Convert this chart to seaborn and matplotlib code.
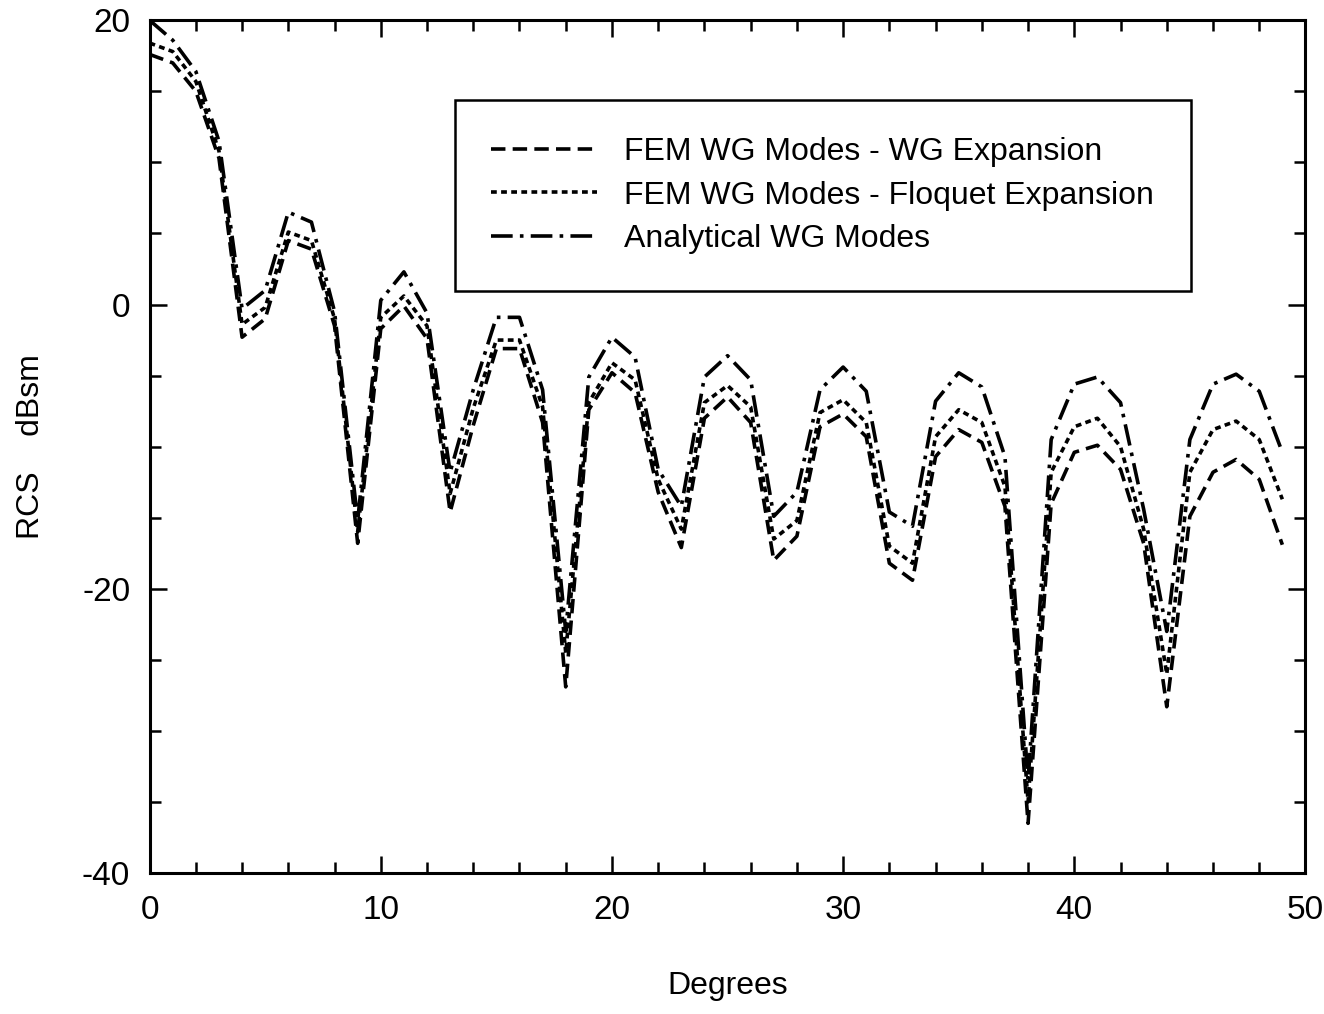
import matplotlib
matplotlib.use("Agg")
from matplotlib import pyplot as plt
from matplotlib.ticker import MultipleLocator
import pandas as pd
import seaborn as sns

# RCS vs. angle (one sample per degree)
degrees = list(range(0, 50))

wg_expansion = [17.6, 17.0, 15.0, 10.3, -2.3, -1.0, 4.5, 3.9, -1.5, -16.8,
                -1.7, -0.1, -2.4, -14.6, -8.5, -3.1, -3.1, -8.3, -26.9, -7.4,
                -4.8, -6.2, -13.2, -17.1, -8.0, -6.5, -8.3, -18.0, -16.3, -8.6,
                -7.7, -9.3, -18.2, -19.4, -10.7, -8.8, -9.7, -14.2, -36.5, -14.0,
                -10.4, -9.9, -11.6, -16.8, -28.3, -14.9, -11.8, -10.9, -12.3, -16.9]

floquet_expansion = [18.4, 17.8, 15.7, 10.8, -1.4, -0.2, 5.1, 4.5, -1.0, -16.0,
                     -0.9, 0.6, -1.5, -13.3, -7.3, -2.5, -2.5, -7.2, -24.5, -6.9,
                     -4.1, -5.3, -12.3, -15.8, -6.9, -5.7, -7.2, -16.5, -15.2, -7.6,
                     -6.7, -8.3, -17.0, -18.2, -9.3, -7.4, -8.3, -12.8, -35.0, -11.8,
                     -8.6, -8.0, -10.0, -15.8, -26.0, -11.8, -8.8, -8.2, -9.5, -13.7]

analytical = [20.0, 18.6, 16.4, 11.5, -0.3, 1.0, 6.5, 5.8, -0.5, -15.2,
              0.3, 2.3, -0.6, -11.8, -6.0, -0.9, -0.9, -6.0, -23.0, -5.1,
              -2.3, -3.7, -11.6, -14.2, -5.1, -3.6, -5.3, -14.9, -13.2, -6.0,
              -4.4, -6.1, -14.6, -15.6, -6.8, -4.8, -5.8, -10.7, -33.5, -9.5,
              -5.6, -5.1, -6.9, -14.4, -23.0, -9.5, -5.6, -4.9, -6.1, -10.4]

labels = ["FEM WG Modes - WG Expansion",
          "FEM WG Modes - Floquet Expansion",
          "Analytical WG Modes"]

def main():
    sns.set_style("ticks")
    plt.rcParams['font.family'] = ['Liberation Sans', 'DejaVu Sans']
    plt.rcParams['axes.unicode_minus'] = False
    plt.rcParams['text.color'] = 'black'
    plt.rcParams['axes.labelcolor'] = 'black'

    df = pd.concat([
        pd.DataFrame({'deg': degrees, 'rcs': wg_expansion, 'series': labels[0]}),
        pd.DataFrame({'deg': degrees, 'rcs': floquet_expansion, 'series': labels[1]}),
        pd.DataFrame({'deg': degrees, 'rcs': analytical, 'series': labels[2]}),
    ], ignore_index=True)

    fig = plt.figure(figsize=(13.24, 10.14), dpi=100)
    ax = fig.add_axes([0.113, 0.139, 0.873, 0.841])

    dashes = {labels[0]: (4.0, 2.0),
              labels[1]: (1.6, 1.2),
              labels[2]: (6.0, 2.0, 1.0, 2.0)}
    sns.lineplot(data=df, x='deg', y='rcs', style='series', dashes=dashes,
                 color='black', linewidth=2.6, ax=ax)

    ax.set_xlim(0, 50)
    ax.set_ylim(-40, 20)
    ax.xaxis.set_major_locator(MultipleLocator(10))
    ax.xaxis.set_minor_locator(MultipleLocator(2))
    ax.yaxis.set_major_locator(MultipleLocator(20))
    ax.yaxis.set_minor_locator(MultipleLocator(5))
    ax.tick_params(which='both', direction='in', top=True, right=True,
                   labelsize=24, colors='black', width=1.8)
    ax.tick_params(which='major', length=12)
    ax.tick_params(which='minor', length=8)
    ax.tick_params(axis='x', which='major', pad=16)
    ax.tick_params(axis='y', which='major', pad=14)
    for s in ax.spines.values():
        s.set_visible(True)
        s.set_linewidth(2.2)
        s.set_color('black')

    ax.set_xlabel('Degrees', fontsize=23, labelpad=32)
    ax.set_ylabel('RCS    dBsm', fontsize=23, labelpad=26)

    handles, _ = ax.get_legend_handles_labels()
    leg = ax.legend(handles=handles, labels=labels, loc='upper left',
                    bbox_to_anchor=(0.264, 0.906), fontsize=23, frameon=True,
                    fancybox=False, edgecolor='black', borderpad=1.15,
                    handlelength=3.3, handletextpad=0.85, labelspacing=0.42,
                    borderaxespad=0)
    leg.get_frame().set_linewidth(1.8)
    leg.get_frame().set_alpha(1)

    plt.savefig('out.png', dpi=100)


if __name__ == '__main__':
    main()
